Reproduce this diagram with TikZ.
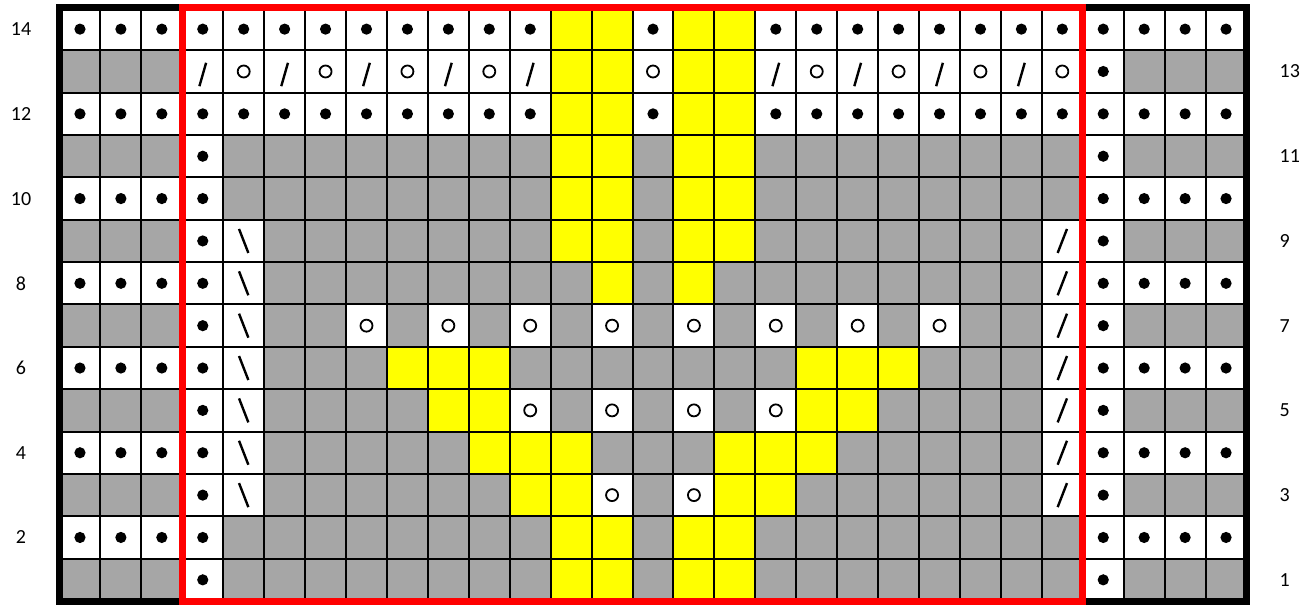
\documentclass[tikz,border=0pt]{standalone}
\usepackage{fontspec}
\setmainfont{Carlito}
\definecolor{knitgray}{HTML}{A6A6A6}
\definecolor{knityellow}{HTML}{FFFF00}
\definecolor{knitred}{HTML}{FF0000}
\tikzset{
  gridline/.style={line width=1pt},
  slashline/.style={line width=1.2pt},
  ringline/.style={line width=0.9pt},
  frameline/.style={line width=3.5pt},
  rowlabel/.style={inner sep=0pt, font=\fontsize{10}{12}\selectfont}
}
\newcommand\knitcell[3]{\fill[#3] (#1,#2-1) rectangle ++(1,1);}
\newcommand\knitG[2]{\knitcell{#1}{#2}{knitgray}}
\newcommand\knitY[2]{\knitcell{#1}{#2}{knityellow}}
\newcommand\knitD[2]{\knitcell{#1}{#2}{white}\fill (#1+0.5,#2-0.5) circle[radius=2.8pt];}
\newcommand\knitO[2]{\knitcell{#1}{#2}{white}\draw[ringline] (#1+0.5,#2-0.5) circle[radius=3pt];}
\newcommand\knitS[2]{\knitcell{#1}{#2}{white}\draw[slashline] (#1+0.5,#2-0.5) ++(-1.68pt,-7.35pt) -- ++(3.36pt,11.7pt);}
\newcommand\knitR[2]{\knitcell{#1}{#2}{white}\draw[slashline] (#1+0.5,#2-0.5) ++(-2.33pt,-6pt) -- ++(4.66pt,12pt);}
\newcommand\knitL[2]{\knitcell{#1}{#2}{white}\draw[slashline] (#1+0.5,#2-0.5) ++(-2.33pt,6pt) -- ++(4.66pt,-12pt);}
\newcommand\knitrow[2]{\foreach \k [count=\c from 0] in {#2} {\csname knit\k\endcsname{\c}{#1}}}
\begin{document}
\begin{tikzpicture}[x=20.465pt,y=21.18pt]
\useasboundingbox (-1.4537,-0.0944) rectangle (30.356,14.188);
\knitrow{14}{D,D,D, D,D,D,D,D,D,D,D,D, Y,Y, D, Y,Y, D,D,D,D,D,D,D,D, D,D,D,D}
\knitrow{13}{G,G,G, S,O,S,O,S,O,S,O,S, Y,Y, O, Y,Y, S,O,S,O,S,O,S,O, D,G,G,G}
\knitrow{12}{D,D,D, D,D,D,D,D,D,D,D,D, Y,Y, D, Y,Y, D,D,D,D,D,D,D,D, D,D,D,D}
\knitrow{11}{G,G,G, D,G,G,G,G,G,G,G,G, Y,Y, G, Y,Y, G,G,G,G,G,G,G,G, D,G,G,G}
\knitrow{10}{D,D,D, D,G,G,G,G,G,G,G,G, Y,Y, G, Y,Y, G,G,G,G,G,G,G,G, D,D,D,D}
\knitrow{9}{G,G,G, D,L,G,G,G,G,G,G,G, Y,Y, G, Y,Y, G,G,G,G,G,G,G,R, D,G,G,G}
\knitrow{8}{D,D,D, D,L, G,G,G,G,G,G,G,G, Y, G, Y, G,G,G,G,G,G,G,G, R, D,D,D,D}
\knitrow{7}{G,G,G, D,L, G,G, O,G,O,G,O,G,O,G,O,G,O,G,O,G,O, G,G, R, D,G,G,G}
\knitrow{6}{D,D,D, D,L, G,G,G, Y,Y,Y, G,G,G,G,G,G,G, Y,Y,Y, G,G,G, R, D,D,D,D}
\knitrow{5}{G,G,G, D,L, G,G,G,G, Y,Y, O,G,O,G,O,G,O, Y,Y, G,G,G,G, R, D,G,G,G}
\knitrow{4}{D,D,D, D,L, G,G,G,G,G, Y,Y,Y, G,G,G, Y,Y,Y, G,G,G,G,G, R, D,D,D,D}
\knitrow{3}{G,G,G, D,L, G,G,G,G,G,G, Y,Y, O,G,O, Y,Y, G,G,G,G,G,G, R, D,G,G,G}
\knitrow{2}{D,D,D, D,G,G,G,G,G,G,G,G, Y,Y, G, Y,Y, G,G,G,G,G,G,G,G, D,D,D,D}
\knitrow{1}{G,G,G, D,G,G,G,G,G,G,G,G, Y,Y, G, Y,Y, G,G,G,G,G,G,G,G, D,G,G,G}
\foreach \i in {0,...,29} \draw[gridline] (\i,0) -- (\i,14);
\foreach \j in {0,...,14} \draw[gridline] (0,\j) -- (29,\j);
\draw[frameline] (0,0) rectangle (29,14);
\draw[frameline,knitred] (3,0) rectangle (25,14);
\foreach \n in {2,4,...,14} \node[rowlabel] (left\n) at (-0.94,\n-0.5) {\n};
\foreach \n in {1,3,...,13} \node[rowlabel,anchor=west] (right\n) at (29.8,\n-0.5) {\n};
\end{tikzpicture}
\end{document}
